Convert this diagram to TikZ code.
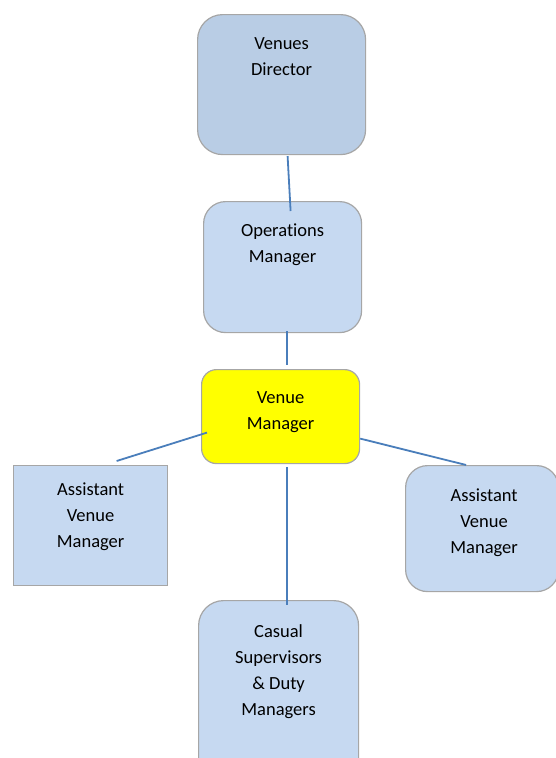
\documentclass[tikz,border=0pt]{standalone}
\usepackage{fontspec}
\setmainfont[Ligatures=NoCommon]{Carlito}
\usetikzlibrary{calc}
\definecolor{boxdark}{HTML}{B9CDE5}
\definecolor{boxlight}{HTML}{C6D9F1}
\definecolor{boxline}{HTML}{A6A6A6}
\definecolor{conn}{HTML}{4A7EBB}
\definecolor{vmyellow}{HTML}{FFFF00}
\tikzset{
  orgbox/.style={draw=boxline, line width=1.2pt, fill=boxlight, inner sep=0pt, anchor=north west},
  lbl/.style={align=center, font=\fontsize{18.5pt}{26pt}\selectfont, text=black, anchor=north, inner sep=0pt},
  conline/.style={draw=conn, line width=1.8pt}
}
\begin{document}
\begin{tikzpicture}[x=1pt,y=1pt]
\useasboundingbox (0,0) rectangle (556,-758);
\clip (0,0) rectangle (556,-758);
% boxes
\node[orgbox, fill=boxdark, rounded corners=25pt, minimum width=168pt, minimum height=140pt] (vd) at (197,-14) {};
\node[orgbox, rounded corners=22pt, minimum width=158pt, minimum height=131pt] (om) at (203,-201) {};
\node[orgbox, fill=vmyellow, rounded corners=15pt, minimum width=158pt, minimum height=94pt] (vm) at (201,-369) {};
\node[orgbox, minimum width=154pt, minimum height=120pt] (avl) at (13,-465) {};
\node[orgbox, rounded corners=22pt, minimum width=153pt, minimum height=126pt] (avr) at (405,-465) {};
\node[orgbox, rounded corners=25pt, minimum width=160pt, minimum height=190pt] (cs) at (198,-600) {};
% labels
\node[lbl] (vdt) at ($(vd.north)+(0,-23)$) {Venues\\Director};
\node[lbl] (omt) at ($(om.north)+(0,-23)$) {Operations\\Manager};
\node[lbl] (vmt) at ($(vm.north)+(0,-22)$) {Venue\\Manager};
\node[lbl] (avlt) at ($(avl.north)+(0,-18)$) {Assistant\\Venue\\Manager};
\node[lbl] (avrt) at ($(avr.north)+(2,-24)$) {Assistant\\Venue\\Manager};
\node[lbl] (cst) at ($(cs.north)+(0,-24)$) {Casual\\Supervisors\\\& Duty\\Managers};
% connector end points
\coordinate (c1a) at ($(vd.south)+(6,-1)$);
\coordinate (c1b) at ($(om.north)+(8,-10)$);
\coordinate (c2a) at ($(om.south)+(4,2)$);
\coordinate (c2b) at ($(vm.north)+(6,4)$);
\coordinate (c3a) at ($(vm.west)+(6,-16)$);
\coordinate (c3b) at ($(avl.north)+(26,4)$);
\coordinate (c4a) at ($(vm.east)+(0,-22)$);
\coordinate (c4b) at ($(avr.north)+(-16,0)$);
\coordinate (c5a) at ($(vm.south)+(6,-3)$);
\coordinate (c5b) at ($(cs.north)+(8,-5)$);
% connectors
\draw[conline] (c1a) -- (c1b);
\draw[conline] (c2a) -- (c2b);
\draw[conline] (c3a) -- (c3b);
\draw[conline] (c4a) -- (c4b);
\draw[conline] (c5a) -- (c5b);
\end{tikzpicture}
\end{document}
